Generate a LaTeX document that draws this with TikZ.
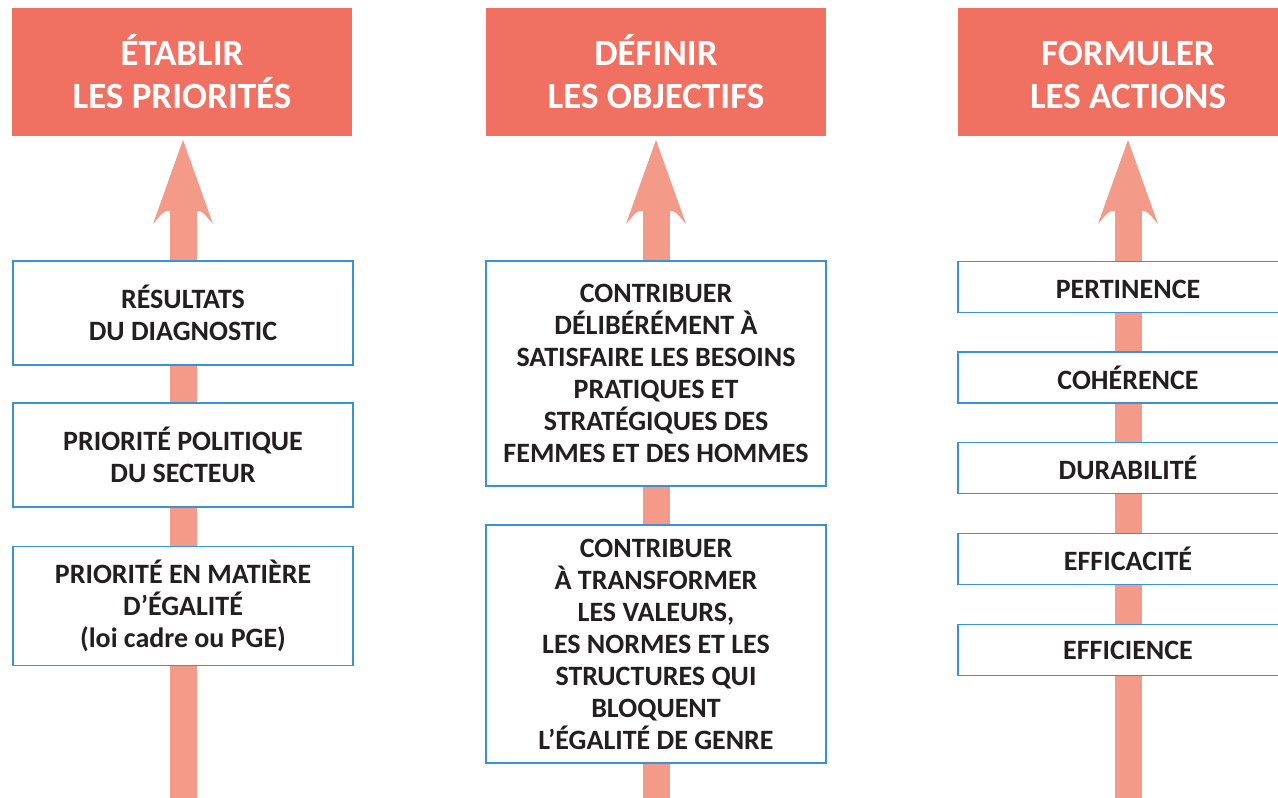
\documentclass[tikz,border=0pt]{standalone}
\usepackage{fontspec}
\setmainfont{Carlito}
\definecolor{headred}{HTML}{F07062}
\definecolor{shaft}{HTML}{F49A88}
\definecolor{boxblue}{HTML}{3A92D4}
\definecolor{txt}{HTML}{231F20}
\tikzset{
  header/.style={fill=headred, text=white, minimum width=340pt, minimum height=128pt, align=center, inner sep=0pt,
    font=\fontsize{37}{43}\selectfont\bfseries},
  itembox/.style={draw=boxblue, line width=1.3pt, fill=white, text=txt, minimum width=340pt, align=center, inner sep=0pt,
    font=\fontsize{28}{32}\selectfont\bfseries},
  shaftline/.style={draw=shaft, line width=27pt},
}
\newcommand{\uparrowhead}[1]{%
  \fill[shaft] (#1) ++(0,2) -- ++(30,84) .. controls ++(-8,-9) and ++(6,-1) .. ++(-16.5,-13) -- ++(-27,0)
    .. controls ++(-6,-1) and ++(8,-9) .. ++(-16.5,13) -- cycle;}
\begin{document}
\begin{tikzpicture}[x=1pt,y=-1pt]
\clip (0,0) rectangle (1278,798);
\fill[white] (0,0) rectangle (1278,798);
% headers
\node[header] (h1) at (182,72) {ÉTABLIR\\LES PRIORITÉS};
\node[header] (h2) at (656,72) {DÉFINIR\\LES OBJECTIFS};
\node[header] (h3) at (1128,72) {\vphantom{É}FORMULER\\LES ACTIONS};
% shafts
\coordinate (b1) at (183,798);
\coordinate (b2) at (656,798);
\coordinate (b3) at (1128,798);
\coordinate (t1) at (183,138);
\coordinate (t2) at (656,138);
\coordinate (t3) at (1128,138);
\draw[shaftline] (b1) -- (183,210);
\draw[shaftline] (b2) -- (656,210);
\draw[shaftline] (b3) -- (1128,210);
\uparrowhead{t1}
\uparrowhead{t2}
\uparrowhead{t3}
% left column
\node[itembox, minimum height=104pt] (l1) at (183,313) {RÉSULTATS\\DU DIAGNOSTIC};
\node[itembox, minimum height=104pt] (l2) at (183,455) {PRIORITÉ POLITIQUE\\DU SECTEUR};
\node[itembox, minimum height=119pt] (l3) at (183,606) {PRIORITÉ EN MATIÈRE\\D’ÉGALITÉ\\(loi cadre ou PGE)};
% middle column
\node[itembox, minimum height=225pt] (m1) at (656,373.5) {CONTRIBUER\\DÉLIBÉRÉMENT À\\SATISFAIRE LES BESOINS\\PRATIQUES ET\\STRATÉGIQUES DES\\FEMMES ET DES HOMMES};
\node[itembox, minimum height=238pt] (m2) at (656,644) {CONTRIBUER\\À TRANSFORMER\\LES VALEURS,\\LES NORMES ET LES\\STRUCTURES QUI\\BLOQUENT\\L’ÉGALITÉ DE GENRE};
% right column
\node[itembox, minimum height=51pt] (r1) at (1128,287) {\vphantom{É}PERTINENCE};
\node[itembox, minimum height=51pt] (r2) at (1128,377.5) {COHÉRENCE};
\node[itembox, minimum height=51pt] (r3) at (1128,468) {DURABILITÉ};
\node[itembox, minimum height=51pt] (r4) at (1128,559) {EFFICACITÉ};
\node[itembox, minimum height=51pt] (r5) at (1128,650) {EFFICIENCE};
\end{tikzpicture}
\end{document}
